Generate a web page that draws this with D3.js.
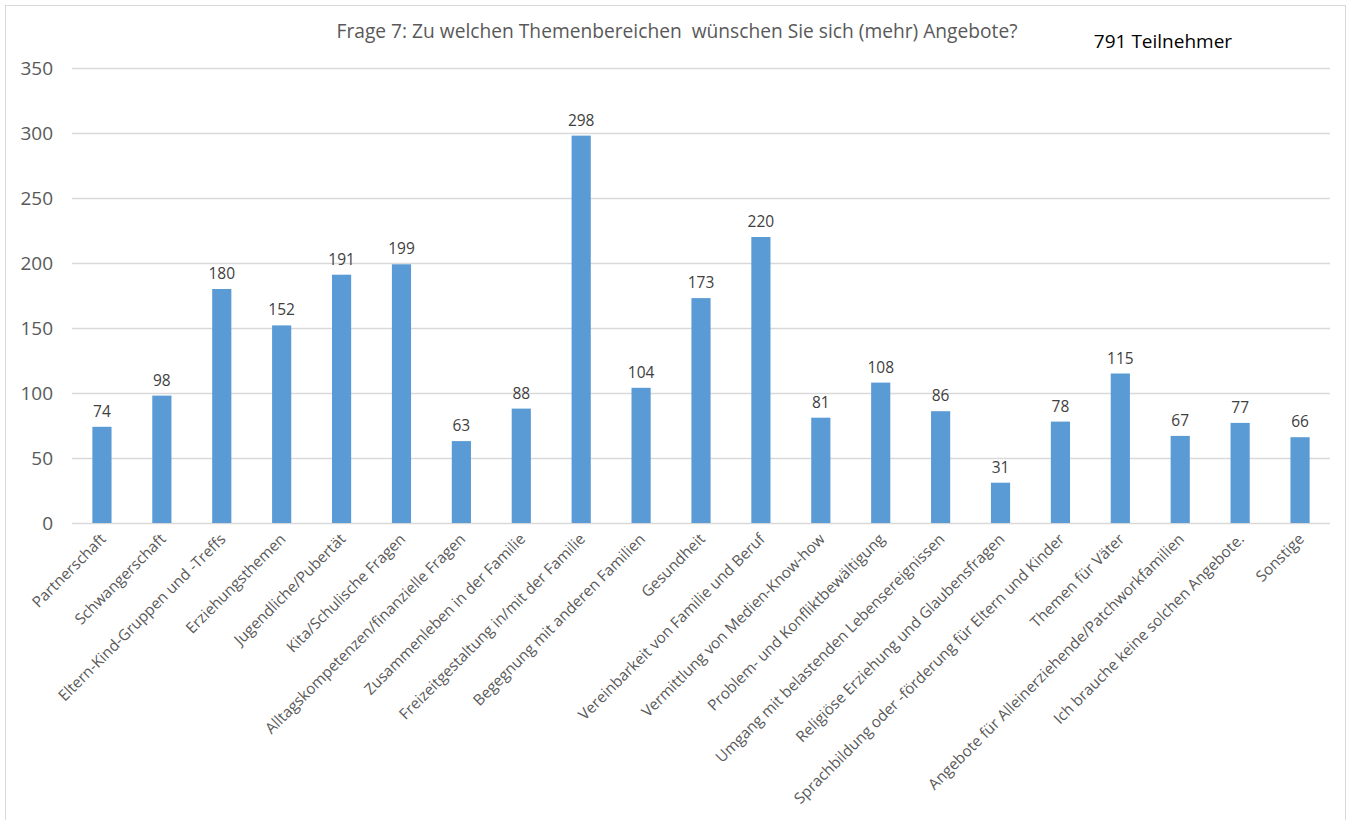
<!DOCTYPE html>
<html><head><meta charset="utf-8">
<script src="https://cdn.jsdelivr.net/npm/d3@7"></script>
<style>body{margin:0;background:#fff}svg{display:block}</style>
</head><body>
<script>
const categories = ["Partnerschaft","Schwangerschaft","Eltern-Kind-Gruppen und -Treffs","Erziehungsthemen","Jugendliche/Pubertät","Kita/Schulische Fragen","Alltagskompetenzen/finanzielle Fragen","Zusammenleben in der Familie","Freizeitgestaltung in/mit der Familie","Begegnung mit anderen Familien","Gesundheit","Vereinbarkeit von Familie und Beruf","Vermittlung von Medien-Know-how","Problem- und Konfliktbewältigung","Umgang mit belastenden Lebensereignissen","Religiöse Erziehung und Glaubensfragen","Sprachbildung oder -förderung für Eltern und Kinder","Themen für Väter","Angebote für Alleinerziehende/Patchworkfamilien","Ich brauche keine solchen Angebote.","Sonstige"];
const values = [74,98,180,152,191,199,63,88,298,104,173,220,81,108,86,31,78,115,67,77,66];
const yTicks = [0,50,100,150,200,250,300,350];
const titleText = "Frage 7: Zu welchen Themenbereichen  wünschen Sie sich (mehr) Angebote?";
const noteText = "791 Teilnehmer";

const W = 1351, H = 820;
const svg = d3.select("body").append("svg").attr("width", W).attr("height", H)
  .style("font-family", "'Open Sans', sans-serif");

svg.append("rect").attr("x", 5.5).attr("y", 5.5).attr("width", W - 11).attr("height", H - 5)
  .attr("fill", "#fff").attr("stroke", "#d9d9d9").attr("stroke-width", 1);

const x = d3.scaleBand().domain(categories).range([72, 1330]).paddingInner(0.68).paddingOuter(0.34);
const y = d3.scaleLinear().domain([0, 350]).range([523, 68]);

// gridlines
svg.append("g").selectAll("line").data(yTicks).join("line")
  .attr("x1", 72).attr("x2", 1330)
  .attr("y1", d => Math.round(y(d)) + 0.5).attr("y2", d => Math.round(y(d)) + 0.5)
  .attr("stroke", "#d9d9d9").attr("stroke-width", 1.3);

// y axis labels
const yAxis = d3.axisLeft(y).tickValues(yTicks).tickSize(0).tickPadding(0);
const gy = svg.append("g").attr("transform", "translate(53,0)").call(yAxis);
gy.select(".domain").remove();
gy.selectAll("text").attr("fill", "#595959").style("font-size", "19px").style("font-family", "'Open Sans', sans-serif");

// bars
svg.append("g").selectAll("rect").data(values).join("rect")
  .attr("x", (d, i) => x(categories[i]))
  .attr("width", x.bandwidth())
  .attr("y", d => y(d))
  .attr("height", d => y(0) - y(d))
  .attr("fill", "#5b9bd5");

// data labels
svg.append("g").selectAll("text").data(values).join("text")
  .attr("x", (d, i) => x(categories[i]) + x.bandwidth() / 2)
  .attr("y", d => y(d) - 10)
  .attr("text-anchor", "middle")
  .attr("fill", "#404040")
  .style("font-size", "15.5px")
  .text(d => d);

// x axis category labels
const xAxis = d3.axisBottom(x).tickSize(0).tickPadding(0);
const gx = svg.append("g").attr("transform", "translate(0,523)").call(xAxis);
gx.select(".domain").remove();
gx.selectAll("text")
  .attr("fill", "#595959")
  .style("font-size", "15.3px").style("font-family", "'Open Sans', sans-serif")
  .attr("text-anchor", "end")
  .attr("dy", null).attr("y", null)
  .attr("transform", "translate(5,17) rotate(-45)");

// title
svg.append("text").attr("x", 677).attr("y", 38).attr("text-anchor", "middle")
  .attr("fill", "#595959").style("font-size", "19.2px").attr("xml:space", "preserve").text(titleText);
svg.append("text").attr("x", 1163).attr("y", 48).attr("text-anchor", "middle")
  .attr("fill", "#000").style("font-size", "19px").text(noteText);
</script>
</body></html>
